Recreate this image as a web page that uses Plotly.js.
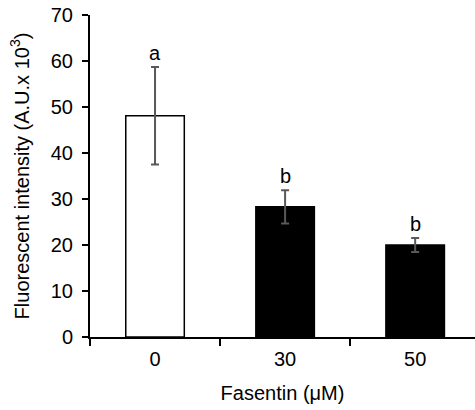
<!DOCTYPE html>
<html><head><meta charset="utf-8">
<script src="https://cdn.plot.ly/plotly-3.0.1.min.js"></script>
<style>body{margin:0;padding:0;background:#fff}#chart{width:475px;height:410px}</style>
</head><body><div id="chart"></div>
<script>
const categories = ["0", "30", "50"];
const values = [48.1, 28.3, 20.0];
const errors = [10.6, 3.6, 1.5];
const letters = ["a", "b", "b"];
const fillColors = ["#ffffff", "#000000", "#000000"];

const font = {family: "Liberation Sans, Arial, sans-serif", color: "#000"};
const fs = 20;

const trace = {
  type: "bar",
  x: categories,
  y: values,
  width: 0.45,
  marker: {color: fillColors, line: {color: "#000", width: 1.5}},
  error_y: {type: "data", array: errors, visible: true, color: "#595959", thickness: 2, width: 4},
  hoverinfo: "none"
};

const annotations = categories.map((c, i) => ({
  x: i, y: values[i] + errors[i], xref: "x", yref: "y", text: letters[i], showarrow: false,
  yanchor: "bottom", yshift: 1, font: Object.assign({size: fs}, font)
}));

const layout = {
  width: 475, height: 410,
  margin: {l: 90, r: 0, t: 15, b: 73},
  paper_bgcolor: "#fff", plot_bgcolor: "#fff",
  showlegend: false,
  font: Object.assign({size: fs}, font),
  xaxis: {
    type: "category", range: [-0.5, 2.46],
    showline: true, linecolor: "#000", linewidth: 2,
    ticks: "outside", tickson: "boundaries", ticklen: 7, tickwidth: 2, tickcolor: "#000",
    ticklabelstandoff: 3,
    showgrid: false, zeroline: false,
    tickfont: Object.assign({size: fs}, font),
    title: {text: "Fasentin (μM)", font: Object.assign({size: fs}, font), standoff: 17}
  },
  yaxis: {
    range: [0, 70], dtick: 10,
    showline: true, linecolor: "#000", linewidth: 2,
    ticks: "outside", ticklen: 6, tickwidth: 2, tickcolor: "#000",
    ticklabelstandoff: 5,
    showgrid: false, zeroline: false,
    tickfont: Object.assign({size: fs}, font),
    title: {text: "Fluorescent intensity (A.U.x 10<sup>3</sup>)", font: Object.assign({size: fs}, font), standoff: 16}
  },
  annotations: annotations
};

Plotly.newPlot("chart", [trace], layout, {staticPlot: true, displayModeBar: false});
</script></body></html>
